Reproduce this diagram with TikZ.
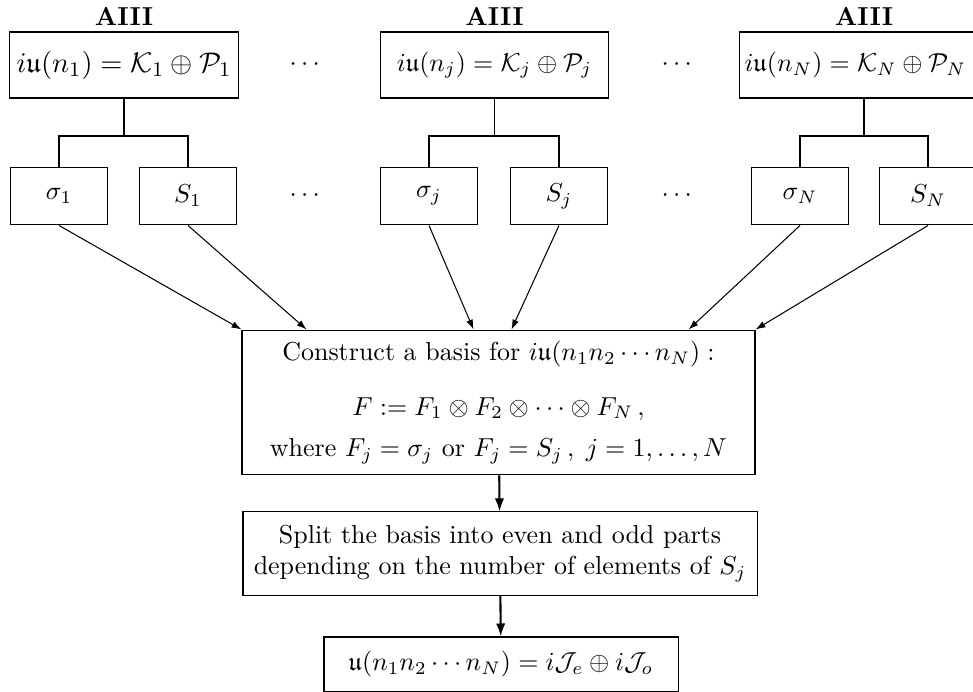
\documentclass[tikz,border=0pt]{standalone}
\usepackage{amsmath,amssymb}
\usetikzlibrary{arrows.meta}

\begin{document}
\begin{tikzpicture}[x=0.385pt,y=-0.385pt,
  box/.style={draw, minimum height=25.4pt, minimum width=87.8pt, inner xsep=2pt},
  leaf/.style={draw, minimum height=22.3pt, minimum width=37.7pt},
  link/.style={-{Latex[length=3.8pt,width=2.6pt]}},
  flow/.style={thick,-{Latex[length=5pt,width=3.6pt]}}]
\useasboundingbox (0,0) rectangle (973,692);
\clip (0,0) rectangle (973,692);

\node[box, font=\fontsize{10.95}{13.6}\selectfont] (k1) at (124,65) {$i\mathfrak{u}(n_1)=\mathcal{K}_1\oplus\mathcal{P}_1$};
\node[box] (kj) at (494.5,65) {$i\mathfrak{u}(n_j)=\mathcal{K}_j\oplus\mathcal{P}_j$};
\node[box, text width=92pt, align=left] (kN) at (864,65) {$i\mathfrak{u}(n_N)=\mathcal{K}_N\oplus\mathcal{P}_N$};
\node[font=\bfseries] (a1) at (124,16) {AIII};
\node[font=\bfseries] (aj) at (494.5,16) {AIII};
\node[font=\bfseries] (aN) at (864,16) {AIII};
\node (d1) at (307,65) {$\cdots$};
\node (d2) at (679,65) {$\cdots$};

\node[leaf] (sg1) at (59,196) {$\sigma_1$};
\node[leaf] (S1) at (188,196) {$S_1$};
\node[leaf] (sgj) at (429,196) {$\sigma_j$};
\node[leaf] (Sj) at (559,196) {$S_j$};
\node[leaf] (sgN) at (800,196) {$\sigma_N$};
\node[leaf] (SN) at (928,196) {$S_N$};
\node (d3) at (307,196) {$\cdots$};
\node (d4) at (679,196) {$\cdots$};

\draw (k1.south) -- ++(0,37.5) -| (sg1.north);
\draw (k1.south) ++(0,37.5) -| (S1.north);
\draw (kj.south) -- ++(0,37.5) -| (sgj.north);
\draw (kj.south) ++(0,37.5) -| (Sj.north);
\draw (kN.south) -- ++(0,37.5) -| (sgN.north);
\draw (kN.south) ++(0,37.5) -| (SN.north);

\node[draw, minimum width=197.5pt, minimum height=55.8pt, align=center] (basis) at (498.5,402.5)
  {Construct a basis for $i\mathfrak{u}(n_1n_2\cdots n_N) :$\\[9pt]
   $F := F_1\otimes F_2\otimes\cdots\otimes F_N\,,$\\[4pt]
   where $F_j=\sigma_j$ or $F_j=S_j\,,\; j=1,\ldots,N$};

\path[draw,link] (sg1.south) -- (basis.north west);
\path[draw,link] (S1.south) -- ([xshift=-73.9pt]basis.north);
\path[draw,link] (sgj.south) -- ([xshift=-9.6pt]basis.north);
\path[draw,link] (Sj.south) -- ([xshift=5pt]basis.north);
\path[draw,link] (sgN.south) -- ([xshift=73.2pt]basis.north);
\path[draw,link] (SN.south) -- (basis.north east);

\node[draw, minimum width=197.9pt, minimum height=32pt, align=center] (split) at (500,553.5)
  {Split the basis into even and odd parts\\depending on the number of elements of $S_j$};
\node[draw, minimum height=20.8pt, minimum width=136.3pt] (result) at (501,664)
  {$\mathfrak{u}(n_1n_2\cdots n_N)=i\mathcal{J}_e\oplus i\mathcal{J}_o$};

\path[draw,flow] (basis) -- (split);
\path[draw,flow] (split) -- (result);
\end{tikzpicture}
\end{document}
